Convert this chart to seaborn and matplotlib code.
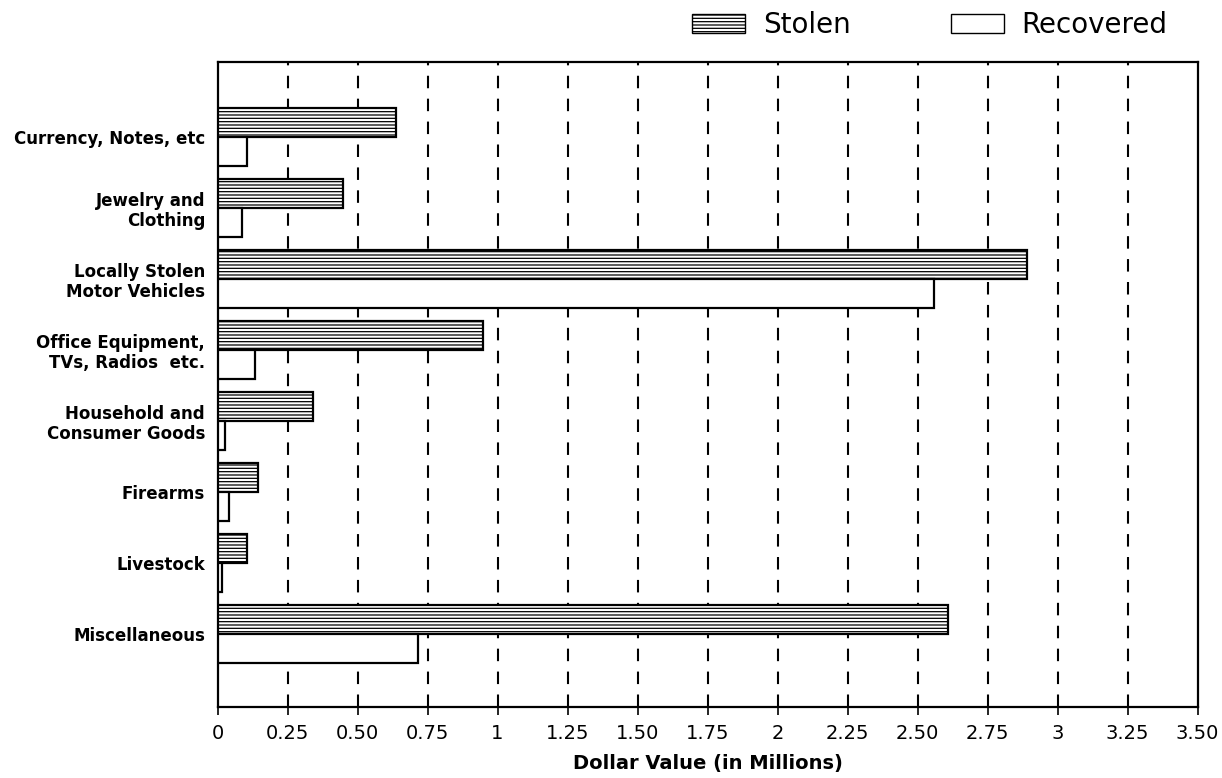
import matplotlib
matplotlib.use("Agg")
import matplotlib.pyplot as plt
import seaborn as sns
import pandas as pd
from matplotlib.patches import Patch

categories = ["Currency, Notes, etc", "Jewelry and\nClothing", "Locally Stolen\nMotor Vehicles",
              "Office Equipment,\nTVs, Radios  etc.", "Household and\nConsumer Goods",
              "Firearms", "Livestock", "Miscellaneous"]
stolen = [0.637, 0.448, 2.89, 0.949, 0.342, 0.143, 0.105, 2.61]
recovered = [0.105, 0.087, 2.56, 0.134, 0.027, 0.04, 0.015, 0.717]
series = ["Stolen", "Recovered"]
xticks = [0, 0.25, 0.5, 0.75, 1, 1.25, 1.5, 1.75, 2, 2.25, 2.5, 2.75, 3, 3.25, 3.5]
xticklabels = ["0", "0.25", "0.50", "0.75", "1", "1.25", "1.50", "1.75", "2",
               "2.25", "2.50", "2.75", "3", "3.25", "3.50"]

df = pd.DataFrame({
    "Category": categories * 2,
    "Value": stolen + recovered,
    "Type": [series[0]] * len(categories) + [series[1]] * len(categories),
})

sns.set_theme(style="white")
plt.rcParams['font.family'] = ['DejaVu Sans']
plt.rcParams['hatch.linewidth'] = 0.9
plt.rcParams['text.color'] = 'black'
plt.rcParams['axes.labelcolor'] = 'black'
plt.rcParams['xtick.color'] = 'black'
plt.rcParams['ytick.color'] = 'black'

fig = plt.figure(figsize=(12.22, 7.78), dpi=100)
ax = fig.add_axes([0.178, 0.0913, 0.802, 0.829])

sns.barplot(data=df, y="Category", x="Value", hue="Type", orient="h",
            palette=["white", "white"], width=0.82, ax=ax, legend=False, zorder=3)

HATCH = "-----"
for i, cont in enumerate(ax.containers):
    for p in cont:
        p.set_edgecolor("black")
        p.set_linewidth(1.6)
        p.set_facecolor("white")
        if i == 0:
            p.set_hatch(HATCH)

ax.set_xlim(0, 3.5)
ax.set_ylim(8.03, -1.06)
ax.set_xticks(xticks)
ax.set_xticklabels(xticklabels, fontsize=14, color="black")
ax.tick_params(axis="x", bottom=True, direction="inout", length=11, width=1.2,
               color="black", pad=7)
ax.tick_params(axis="y", left=False, length=0, pad=9)
for lbl in ax.get_yticklabels():
    lbl.set_fontsize(12)
    lbl.set_fontweight("bold")
    lbl.set_color("black")
    lbl.set_linespacing(1.15)
ax.set_ylabel("")
ax.set_xlabel("Dollar Value (in Millions)", fontsize=14, fontweight="semibold",
              color="black", labelpad=8)

for x in xticks[1:-1]:
    ax.axvline(x, color="black", linestyle=(0, (6, 5)), linewidth=1.5, zorder=1)

for s in ax.spines.values():
    s.set_visible(True)
    s.set_color("black")
    s.set_linewidth(1.6)

handles = [Patch(facecolor="white", edgecolor="black", hatch=HATCH, label="Stolen"),
           Patch(facecolor="white", edgecolor="black", label="Recovered")]
fig.legend(handles=handles, loc="upper right", bbox_to_anchor=(0.976, 1.018), ncol=2,
           frameon=False, fontsize=20, handlelength=1.9, handleheight=0.65,
           columnspacing=3.6, handletextpad=0.65)

fig.savefig("out.png", dpi=100, facecolor="white")
